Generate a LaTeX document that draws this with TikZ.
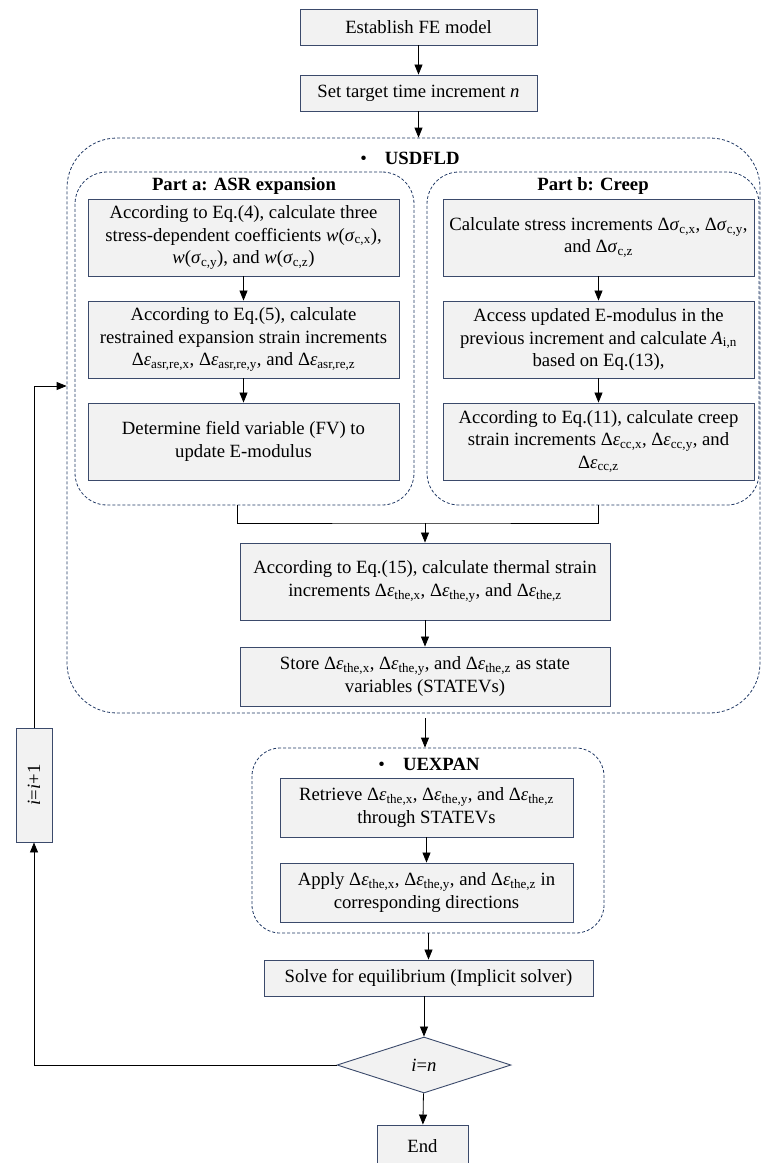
\documentclass[tikz,border=0pt]{standalone}
\usepackage{fontspec}
\setmainfont{Liberation Serif}
\usetikzlibrary{arrows.meta,shapes.geometric}

\definecolor{boxfill}{HTML}{F2F2F2}
\definecolor{boxline}{HTML}{3B4A6B}
\definecolor{dashnavy}{HTML}{203864}

\newcommand{\deps}[1]{Δ\textit{ε}\textsubscript{#1}}
\newcommand{\dsig}[1]{Δ\textit{σ}\textsubscript{#1}}
\newcommand{\wsig}[1]{\textit{w}(\textit{σ}\textsubscript{#1})}

\tikzset{
  stepbox/.style={rectangle, draw=boxline, fill=boxfill, line width=0.9pt, align=center, inner sep=2pt},
  group/.style={rectangle, draw=dashnavy, dash pattern=on 3pt off 2pt, line width=0.8pt},
  flow/.style={-{Triangle[length=10pt,width=8pt]}, line width=0.8pt},
}

\begin{document}
\begin{tikzpicture}[x=1pt, y=-1pt, font=\fontsize{18.7}{22.5}\selectfont]
            \useasboundingbox (0,0) rectangle (761,1163);

            \node[group, rounded corners=50pt, minimum width=693pt, minimum height=575pt] (usdfld) at (413.5, 425.5) {};
            \node[group, rounded corners=32pt, minimum width=339pt, minimum height=333pt] (parta) at (244.5, 338.5) {};
            \node[group, rounded corners=32pt, minimum width=332pt, minimum height=333pt] (partb) at (593, 338.5) {};
            \node[group, rounded corners=28pt, minimum width=352pt, minimum height=185pt] (uexpan) at (428, 840.5) {};

            \node (usdtitle) at (410, 158) {•\hspace{18pt}\textbf{USDFLD}};
            \node (atitle) at (244, 186) {\textbf{Part a: ASR expansion}};
            \node (btitle) at (593, 186) {\textbf{Part b: Creep}};
            \node (utitle) at (429, 764) {•\hspace{18pt}\textbf{UEXPAN}};

            \node[stepbox, minimum width=237pt, minimum height=36pt] (est) at (418.5, 27) {Establish FE model};
            \node[stepbox, minimum width=237pt, minimum height=36pt] (set) at (418.5, 93) {Set target time increment \textit{n}};

            \node[stepbox, minimum width=311pt, minimum height=77pt] (a1) at (243.5, 237.5) {According to Eq.(4), calculate three\\ stress-dependent coefficients \wsig{c,x},\\ \wsig{c,y}, and \wsig{c,z}};
            \node[stepbox, minimum width=311pt, minimum height=77pt] (a2) at (243.5, 339.5) {According to Eq.(5), calculate\\ restrained expansion strain increments\\ \deps{asr,re,x}, \deps{asr,re,y}, and \deps{asr,re,z}};
            \node[stepbox, minimum width=311pt, minimum height=77pt] (a3) at (243.5, 441.5) {Determine field variable (FV) to\\ update E-modulus};

            \node[stepbox, minimum width=311pt, minimum height=77pt] (b1) at (598.5, 237.5) {Calculate stress increments \dsig{c,x}, \dsig{c,y},\\ and \dsig{c,z}};
            \node[stepbox, minimum width=311pt, minimum height=77pt] (b2) at (598.5, 339.5) {Access updated E-modulus in the\\ previous increment and calculate \textit{A}\textsubscript{i,n}\\ based on Eq.(13),};
            \node[stepbox, minimum width=311pt, minimum height=77pt] (b3) at (598.5, 441.5) {According to Eq.(11), calculate creep\\ strain increments \deps{cc,x}, \deps{cc,y}, and\\ \deps{cc,z}};

            \node[stepbox, minimum width=370pt, minimum height=77pt] (thermal) at (425, 581.5) {According to Eq.(15), calculate thermal strain\\ increments \deps{the,x}, \deps{the,y}, and \deps{the,z}};
            \node[stepbox, minimum width=370pt, minimum height=59pt] (store) at (425, 676.5) {Store \deps{the,x}, \deps{the,y}, and \deps{the,z} as state\\ variables (STATEVs)};

            \node[stepbox, minimum width=293pt, minimum height=59pt] (retrieve) at (426.5, 807.5) {Retrieve \deps{the,x}, \deps{the,y}, and \deps{the,z}\\ through STATEVs};
            \node[stepbox, minimum width=293pt, minimum height=59pt] (apply) at (426.5, 892.5) {Apply \deps{the,x}, \deps{the,y}, and \deps{the,z} in\\ corresponding directions};

            \node[stepbox, minimum width=329pt, minimum height=36pt] (solve) at (428.5, 978) {Solve for equilibrium (Implicit solver)};
            \node[diamond, draw=boxline, fill=boxfill, line width=0.9pt, inner sep=0pt, minimum width=174pt, minimum height=56pt] (check) at (424, 1065) {\textit{i}=\textit{n}};
            \node[stepbox, minimum width=91pt, minimum height=42pt] (finish) at (422.5, 1146) {End};
            \node[stepbox, minimum width=36pt, minimum height=114pt] (incr) at (34, 785) {\rotatebox{90}{\textit{i}=\textit{i}+1}};

            \coordinate (join) at (425, 523);

            \draw[flow] (est) -- (set);
            \draw[flow] (set) -- (set |- usdfld.north);
            \draw[flow] (a1) -- (a2);
            \draw[flow] (a2) -- (a3);
            \draw[flow] (b1) -- (b2);
            \draw[flow] (b2) -- (b3);
            \draw[line width=0.8pt] ([xshift=-7pt]parta.south) |- (join) -| (partb.south -| b3.south);
            \draw[flow] (join) -- (thermal.north);
            \draw[flow] (thermal) -- (store);
            \draw[flow] ([yshift=-5pt]usdfld.south -| store.south) -- (uexpan.north -| store.south);
            \draw[flow] (retrieve) -- (apply);
            \draw[flow] (uexpan.south -| solve.north) -- (solve.north);
            \draw[flow] (solve.south -| check.north) -- (check.north);
            \draw[flow] (check) -- (finish);
            \draw[flow] (check.west) -| (incr.south);
            \draw[flow] (incr.north) |- (usdfld.west |- 0,386);
        \end{tikzpicture}
\end{document}
